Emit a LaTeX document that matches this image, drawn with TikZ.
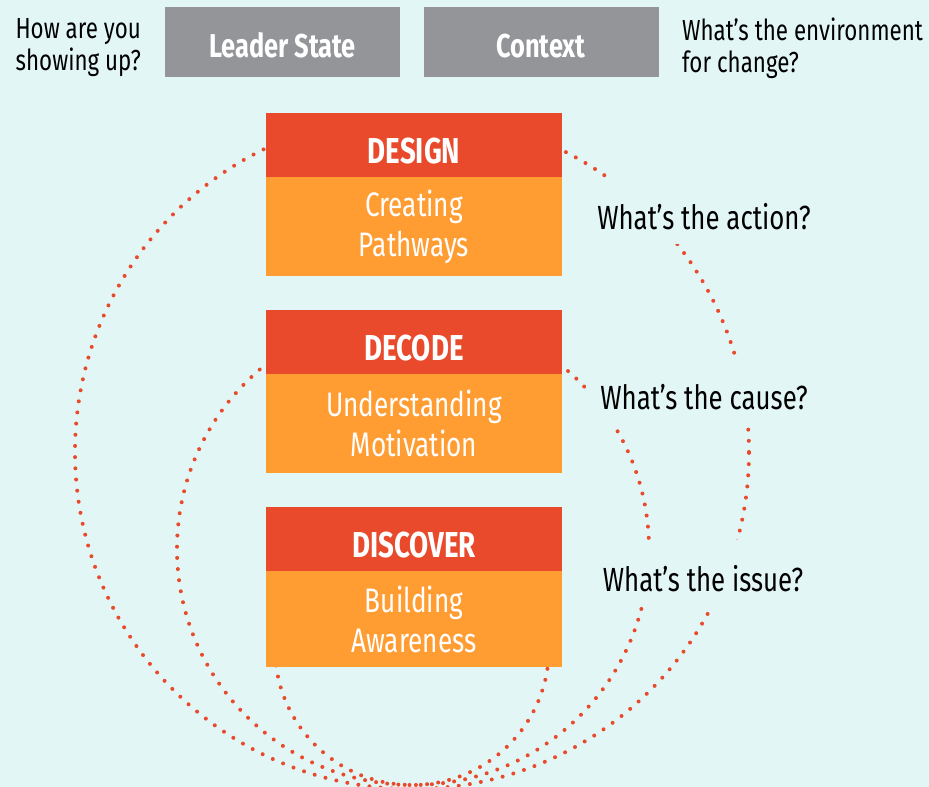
\documentclass[tikz,border=0pt]{standalone}
\usepackage{fontspec}
\setmainfont[FakeStretch=0.77]{Fira Sans}
\definecolor{bg}{HTML}{E3F6F6}
\definecolor{boxgray}{HTML}{939598}
\definecolor{hdrred}{HTML}{E84A2B}
\definecolor{bodyorange}{HTML}{FF9D33}
\begin{document}
\begin{tikzpicture}[x=1pt,y=-1pt,
  graybox/.style={fill=boxgray, text=white, minimum width=235pt, minimum height=70pt, inner sep=0pt, text height=30pt, text depth=0pt, font=\bfseries\fontsize{33}{36}\selectfont},
  hdr/.style={fill=hdrred, text=white, minimum width=296pt, minimum height=64pt, inner sep=0pt, text height=37pt, text depth=0pt, font=\bfseries\fontsize{36}{40}\selectfont},
  bodybox/.style={fill=bodyorange, text=white, minimum width=296pt, minimum height=99pt, inner sep=0pt, align=center, font=\fontsize{34}{40}\selectfont},
  question/.style={fill=bg, inner xsep=14pt, inner ysep=0pt, text height=37pt, text depth=0pt, minimum height=66pt, font=\fontsize{33.5}{40}\selectfont},
  side/.style={inner sep=0pt, font=\fontsize{29}{32}\selectfont},
  dots/.style={draw=hdrred, line width=4pt, line cap=round, dash pattern=on 0pt off 11.2pt}
]
\fill[bg] (0,0) rectangle (929,787);
\useasboundingbox (0,0) rectangle (929,787);

% dotted circles
\draw[dots] (412,452) circle[radius=337pt];
\draw[dots] (413,549) circle[radius=236pt];
\draw[dots] (412,648) circle[radius=137pt];

% question labels (cover the dots)
\node[question] (qaction) at (704,211) {What’s the action?};
\node[question] (qcause) at (704,391) {What’s the cause?};
\node[question] (qissue) at (703,573) {What’s the issue?};

% top row
\node[graybox] (leader) at (282.5,42) {Leader State};
\node[graybox] (context) at (541,42) {Context};
\node[side, anchor=east, align=right] (howq) at (141,48) {How are you\\showing up?};
\node[side, anchor=west, align=left] (envq) at (682,48) {What’s the environment\\for change?};

% stages
\node[hdr] (design) at (414,145) {DESIGN};
\node[bodybox, anchor=north] (designb) at (design.south) {Creating\\Pathways};
\node[hdr] (decode) at (414,342) {DECODE};
\node[bodybox, anchor=north] (decodeb) at (decode.south) {Understanding\\Motivation};
\node[hdr] (discover) at (414,539) {DISCOVER};
\node[bodybox, anchor=north, minimum height=96pt] (discoverb) at (discover.south) {Building\\Awareness};
\end{tikzpicture}
\end{document}
